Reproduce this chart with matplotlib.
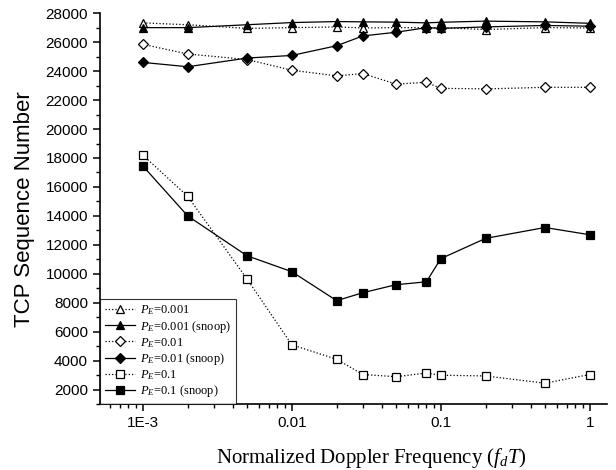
import matplotlib
matplotlib.use('Agg')
import matplotlib.pyplot as plt
from matplotlib.ticker import FixedLocator, LogLocator, NullFormatter, MultipleLocator

plt.rcParams['font.family'] = 'Liberation Sans'
plt.rcParams['mathtext.fontset'] = 'custom'
plt.rcParams['mathtext.rm'] = 'Liberation Serif'
plt.rcParams['mathtext.it'] = 'Liberation Serif:italic'

fd = [1e-3, 2e-3, 5e-3, 0.01, 0.02, 0.03, 0.05, 0.08, 0.1, 0.2, 0.5, 1]

pe001 = [27330, 27200, 26950, 27000, 27050, 26980, 27000, 27000, 27000, 26870, 27000, 26980]
pe001_snoop = [27000, 27000, 27200, 27350, 27420, 27400, 27380, 27330, 27370, 27450, 27400, 27300]
pe01 = [25850, 25180, 24800, 24060, 23670, 23830, 23100, 23230, 22810, 22770, 22880, 22880]
pe01_snoop = [24600, 24300, 24900, 25080, 25750, 26430, 26680, 27000, 26950, 27050, 27150, 27100]
pe1 = [18200, 15350, 9650, 5100, 4100, 3050, 2900, 3150, 3000, 2950, 2450, 3050]
pe1_snoop = [17450, 14000, 11250, 10150, 8150, 8700, 9250, 9450, 11050, 12450, 13200, 12700]

series = [
    (pe001, '^', 'white', ':', '$P_E$=0.001'),
    (pe001_snoop, '^', 'black', '-', '$P_E$=0.001 (snoop)'),
    (pe01, 'D', 'white', ':', '$P_E$=0.01'),
    (pe01_snoop, 'D', 'black', '-', '$P_E$=0.01 (snoop)'),
    (pe1, 's', 'white', ':', '$P_E$=0.1'),
    (pe1_snoop, 's', 'black', '-', '$P_E$=0.1 (snoop)'),
]

fig = plt.figure(figsize=(6.16, 4.70), dpi=100)
ax = fig.add_axes([0.162, 0.140, 0.823, 0.832])

for values, marker, face, ls, label in series:
    ax.plot(fd, values, linestyle=ls, color='black', linewidth=0.9,
            marker=marker, markersize=6 if marker != 'D' else 5,
            markerfacecolor=face, markeredgecolor='black', markeredgewidth=0.9,
            label=label)

ax.set_xscale('log')
ax.set_xlim(5.14e-4, 1.3)
ax.set_ylim(1000, 28000)

ax.xaxis.set_major_locator(FixedLocator([1e-3, 1e-2, 1e-1, 1]))
ax.set_xticklabels(['1E-3', '0.01', '0.1', '1'])
ax.xaxis.set_minor_locator(LogLocator(base=10, subs=range(2, 10)))
ax.xaxis.set_minor_formatter(NullFormatter())
ax.yaxis.set_major_locator(FixedLocator(range(2000, 28001, 2000)))
ax.yaxis.set_minor_locator(MultipleLocator(1000))

ax.spines['top'].set_visible(False)
ax.spines['right'].set_visible(False)
ax.spines['left'].set_linewidth(1.2)
ax.spines['bottom'].set_linewidth(1.2)
ax.tick_params(which='major', direction='out', length=5, width=1.1, labelsize=11)
ax.tick_params(which='minor', direction='out', length=3, width=1.0)

ax.set_ylabel('TCP Sequence Number', fontsize=16)
ax.yaxis.set_label_coords(-0.128, 0.5)
ax.set_xlabel('Normalized Doppler Frequency ($f_d T$)', fontsize=15,
              family='Liberation Serif')
ax.xaxis.set_label_coords(0.535, -0.108)

leg = ax.legend(loc='lower left', borderaxespad=0, frameon=True, fancybox=False,
                edgecolor='black', prop={'family': 'Liberation Serif', 'size': 9},
                handlelength=2.4, labelspacing=0.1, borderpad=0.4, handletextpad=0.4)
leg.get_frame().set_linewidth(0.8)

fig.savefig('out.png', dpi=100)
